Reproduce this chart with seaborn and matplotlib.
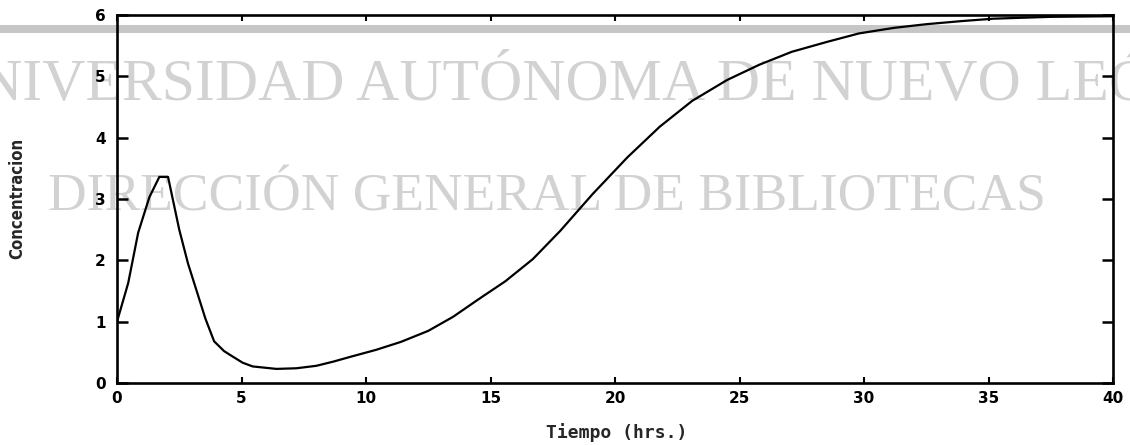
import matplotlib
matplotlib.use("Agg")
import matplotlib.pyplot as plt
from matplotlib.patches import Rectangle
import seaborn as sns
import pandas as pd

# Concentration over time
tiempo = [0, 0.45, 0.85, 1.3, 1.7, 2.05, 2.5, 2.85, 3.2, 3.55, 3.9, 4.3, 4.65,
          5.05, 5.45, 6.4, 7.2, 8.0, 8.7, 9.4, 10.4, 11.4, 12.5, 13.5, 14.5,
          15.6, 16.7, 17.8, 19.1, 20.5, 21.8, 23.1, 24.5, 25.8, 27.1, 28.5,
          29.8, 31.2, 32.5, 33.9, 35.2, 37.5, 40]
concentracion = [1.0, 1.63, 2.45, 3.03, 3.36, 3.36, 2.5, 1.95, 1.5, 1.05, 0.68,
                 0.52, 0.43, 0.33, 0.27, 0.23, 0.24, 0.28, 0.35, 0.43, 0.54,
                 0.67, 0.85, 1.08, 1.36, 1.66, 2.02, 2.48, 3.08, 3.68, 4.18,
                 4.60, 4.94, 5.19, 5.40, 5.56, 5.70, 5.79, 5.85, 5.90, 5.94,
                 5.97, 5.98]

x_ticks = [0, 5, 10, 15, 20, 25, 30, 35, 40]
y_ticks = [0, 1, 2, 3, 4, 5, 6]

watermark_1 = "UNIVERSIDAD AUTÓNOMA DE NUEVO LEÓN"
watermark_2 = "DIRECCIÓN GENERAL DE BIBLIOTECAS"

sns.set_theme(style="white")
plt.rcParams["font.family"] = ["DejaVu Sans"]

W, H = 1130, 445
fig = plt.figure(figsize=(W / 100, H / 100), dpi=100)
fig.patch.set_facecolor("white")

ax = fig.add_axes([117 / W, 1 - 383 / H, (1113 - 117) / W, (383 - 15) / H])
ax.patch.set_alpha(0)

df = pd.DataFrame({"Tiempo": tiempo, "Concentracion": concentracion})
sns.lineplot(data=df, x="Tiempo", y="Concentracion", ax=ax, color="black",
             linewidth=1.6, sort=False)

ax.set_xlim(0, 40)
ax.set_ylim(0, 6)
ax.set_xticks(x_ticks)
ax.set_yticks(y_ticks)
ax.set_xticklabels([str(v) for v in x_ticks], fontweight="bold", fontsize=11)
ax.set_yticklabels([str(v) for v in y_ticks], fontweight="bold", fontsize=11)
ax.tick_params(axis="x", direction="in", length=4, width=1.5, top=True,
               bottom=True, pad=6, colors="black")
ax.tick_params(axis="y", direction="in", length=8, width=1.8, left=True,
               right=True, pad=8, colors="black")
for side in ["left", "right", "top", "bottom"]:
    ax.spines[side].set_visible(True)
    ax.spines[side].set_color("black")
    ax.spines[side].set_linewidth(1.9)

ax.set_xlabel("")
ax.set_ylabel("")
fig.text(617 / W, 1 - 433 / H, "Tiempo (hrs.)", ha="center", va="center",
         fontsize=13, fontweight="bold", family=["DejaVu Sans Mono"])
fig.text(17 / W, 1 - 198 / H, "Concentracion", rotation=90, ha="center",
         va="center", fontsize=12, fontweight="bold",
         family=["Liberation Sans Narrow", "DejaVu Sans"], fontstretch="condensed")

# Library stamp behind the plot
fig.add_artist(Rectangle((0, 1 - 33 / H), 1, 8 / H, transform=fig.transFigure,
                         facecolor="#c6c6c6", edgecolor="none", zorder=-2))
fig.text(-64 / W, 1 - 100 / H, watermark_1, ha="left", va="baseline",
         fontsize=43, color="#d2d2d2", family=["Liberation Serif"], zorder=-1)
fig.text(48 / W, 1 - 210 / H, watermark_2, ha="left", va="baseline",
         fontsize=38.5, color="#d2d2d2", family=["Liberation Serif"], zorder=-1)

fig.savefig("out.png", dpi=100, facecolor="white")
